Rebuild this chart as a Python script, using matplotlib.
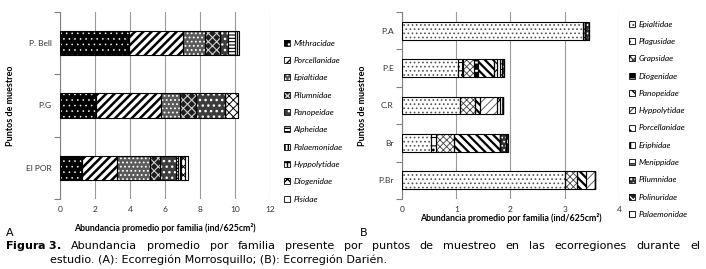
import matplotlib
matplotlib.use("Agg")
import matplotlib.pyplot as plt
from matplotlib.patches import Patch
from matplotlib.legend_handler import HandlerTuple
import numpy as np

# ---- data ----
sitios_a = ["El POR", "P.G", "P. Bell"]
familias_a = ["Mithracidae", "Porcellanidae", "Epialtidae", "Pilumnidae", "Panopeidae",
              "Alpheidae", "Palaemonidae", "Hyppolytidae", "Diogenidae", "Pisidae"]
# one list per family, columns = sites (El POR, P.G, P. Bell)
mithracidae_a = [1.25, 2.05, 3.95]
porcellanidae_a = [2.0, 3.7, 3.05]
epialtidae_a = [1.9, 1.1, 1.3]
pilumnidae_a = [0.55, 0.9, 0.85]
panopeidae_a = [0.95, 1.7, 0.45]
alpheidae_a = [0.08, 0.0, 0.4]
palaemonidae_a = [0.1, 0.0, 0.12]
hyppolytidae_a = [0.07, 0.0, 0.0]
diogenidae_a = [0.25, 0.7, 0.0]
pisidae_a = [0.15, 0.0, 0.08]
valores_a = [mithracidae_a, porcellanidae_a, epialtidae_a, pilumnidae_a, panopeidae_a,
             alpheidae_a, palaemonidae_a, hyppolytidae_a, diogenidae_a, pisidae_a]

sitios_b = ["P.Br", "Br", "C.R", "P.E", "P.A"]
familias_b = ["Epialtidae", "Plagusidae", "Grapsidae", "Diogenidae", "Panopeidae",
              "Hyppolytidae", "Porcellanidae", "Eriphidae", "Menippidae", "Pilumnidae",
              "Polinuridae", "Palaemonidae"]
# columns = sites (P.Br, Br, C.R, P.E, P.A)
epialtidae_b = [3.0, 0.53, 1.07, 1.04, 3.33]
plagusidae_b = [0.0, 0.09, 0.0, 0.09, 0.05]
grapsidae_b = [0.23, 0.34, 0.28, 0.2, 0.0]
diogenidae_b = [0.0, 0.0, 0.0, 0.08, 0.0]
panopeidae_b = [0.17, 0.85, 0.09, 0.29, 0.0]
hyppolytidae_b = [0.15, 0.0, 0.31, 0.0, 0.0]
porcellanidae_b = [0.0, 0.0, 0.05, 0.06, 0.0]
eriphidae_b = [0.0, 0.0, 0.06, 0.05, 0.0]
menippidae_b = [0.0, 0.0, 0.0, 0.03, 0.0]
pilumnidae_b = [0.0, 0.1, 0.0, 0.04, 0.07]
polinuridae_b = [0.0, 0.05, 0.0, 0.0, 0.0]
palaemonidae_b = [0.0, 0.0, 0.0, 0.0, 0.0]
valores_b = [epialtidae_b, plagusidae_b, grapsidae_b, diogenidae_b, panopeidae_b,
             hyppolytidae_b, porcellanidae_b, eriphidae_b, menippidae_b, pilumnidae_b,
             polinuridae_b, palaemonidae_b]

caption_1 = ("Abundancia promedio por familia presente por puntos de muestreo "
             "en las ecorregiones durante el")
caption_2 = "estudio. (A): Ecorregión Morrosquillo; (B): Ecorregión Darién."

# (face, hatch colour, hatch, hatch linewidth)
estilos_a = [("black", "white", "...", 0.4),
             ("white", "black", "////", 1.8),
             ("#5a5a5a", "white", "....", 0.8),
             ("#1e1e1e", "#cfcfcf", "xxxx", 0.8),
             ("#3c3c3c", "white", "...", 1.0),
             ("white", "black", "-----", 0.8),
             ("white", "black", "|||||", 0.8),
             ("white", "black", "++", 0.8),
             ("white", "black", "xxxx", 0.7),
             ("white", "white", "", 0.5)]
estilos_b = [("white", "#555555", "....", 0.7),
             ("white", "black", "++..", 0.8),
             ("white", "#404040", "xxxxx", 0.6),
             ("black", "white", "++", 1.5),
             ("white", "black", "\\\\\\\\", 1.6),
             ("white", "#606060", "////", 0.7),
             ("white", "black", "xx", 0.8),
             ("white", "black", "|||", 0.8),
             ("white", "black", "---", 0.8),
             ("#333333", "white", "....", 0.8),
             ("#222222", "white", "xx", 0.8),
             ("white", "black", "||", 0.8)]

plt.rcParams["font.family"] = ["Lato", "DejaVu Sans"]
plt.rcParams["mathtext.fontset"] = "dejavusans"

fig = plt.figure(figsize=(7.06, 2.69), dpi=100)
W, H = 706, 269


def px_axes(x0, y0, x1, y1):
    return fig.add_axes([x0 / W, 1 - y1 / H, (x1 - x0) / W, (y1 - y0) / H])


def dibujar(ax, sitios, valores, familias, estilos, alto, xmax, xticks):
    y = np.arange(len(sitios))
    izq = np.zeros(len(sitios))
    handles = []
    for fam, vals, (fc, hc, hatch, hlw) in zip(familias, valores, estilos):
        vals = np.array(vals)
        with plt.rc_context({"hatch.linewidth": hlw}):
            ax.barh(y, vals, left=izq, height=alto, color=fc, edgecolor=hc,
                    hatch=hatch, linewidth=0, zorder=2)
            h1 = Patch(facecolor=fc, edgecolor=hc, hatch=hatch, linewidth=0)
        ax.barh(y, vals, left=izq, height=alto, fill=False, edgecolor="black",
                linewidth=0.8, zorder=3)
        h2 = Patch(fill=False, edgecolor="black", linewidth=0.6)
        handles.append((h1, h2))
        izq = izq + vals
    ax.set_xlim(0, xmax)
    ax.set_ylim(-0.5, len(sitios) - 0.5)
    ax.set_xticks(xticks)
    ax.xaxis.grid(True, color="#9a9a9a", linewidth=0.8)
    ax.set_axisbelow(True)
    ax.set_yticks(np.arange(len(sitios) + 1) - 0.5)
    ax.set_yticklabels([])
    ax.set_yticks(y, minor=True)
    ax.set_yticklabels(sitios, minor=True)
    ax.tick_params(axis="y", which="major", length=4, color="#808080", width=0.8)
    ax.tick_params(axis="y", which="minor", length=0, pad=6, labelsize=6, labelcolor="#333333")
    ax.tick_params(axis="x", length=0, pad=5, labelsize=6, labelcolor="#333333")
    for s in ["top", "right", "bottom"]:
        ax.spines[s].set_visible(False)
    ax.spines["left"].set_color("#808080")
    ax.spines["left"].set_linewidth(0.8)
    return handles


leg_kw = dict(handler_map={tuple: HandlerTuple(ndivide=1, pad=0)}, loc="upper left",
              frameon=False, prop={"style": "italic", "size": 6}, handlelength=0.75,
              handleheight=0.75, handletextpad=0.4, labelspacing=1.24, borderpad=0,
              borderaxespad=0)

# ---- panel A ----
ax_a = px_axes(60, 12, 270, 199)
h_a = dibujar(ax_a, sitios_a, valores_a, familias_a, estilos_a, 0.39, 12, range(0, 13, 2))
ax_a.set_xlabel("Abundancia promedio por familia (ind/625cm²)", fontsize=6.3,
                fontweight="bold", labelpad=7)
ax_a.set_ylabel("Puntos de muestreo", fontsize=6.5, fontweight="bold", labelpad=8)
fig.legend(h_a, familias_a, bbox_to_anchor=(284 / W, 1 - 39.5 / H), **leg_kw)

# ---- panel B ----
ax_b = px_axes(402, 12, 619, 199)
h_b = dibujar(ax_b, sitios_b, valores_b, familias_b, estilos_b, 0.48, 4, range(0, 5))
ax_b.set_xlabel("Abundancia promedio por familia (ind/625cm²)", fontsize=6.3,
                fontweight="bold", labelpad=0)
ax_b.set_ylabel("Puntos de muestreo", fontsize=6.5, fontweight="bold", labelpad=8)
fig.legend(h_b, familias_b, bbox_to_anchor=(629 / W, 1 - 20.5 / H), **leg_kw)

# ---- panel letters and caption ----
fig.text(6 / W, 1 - 233 / H, "A", fontsize=8, va="center", family="DejaVu Sans")
fig.text(360 / W, 1 - 233 / H, "B", fontsize=8, va="center", family="DejaVu Sans")

# first caption line is justified between x=5 and x=700 px
palabras = [r"$\mathbf{Figura\ 3.}$"] + caption_1.split()
renderer = fig.canvas.get_renderer()
textos = [fig.text(0, 1 - 246 / H, p, fontsize=8, va="center", family="DejaVu Sans")
          for p in palabras]
anchos = [t.get_window_extent(renderer).width for t in textos]
hueco = (695 - sum(anchos)) / (len(textos) - 1)
x = 5.0
for t, w in zip(textos, anchos):
    t.set_x(x / W)
    x += w + hueco
fig.text(50 / W, 1 - 260 / H, caption_2, fontsize=8, va="center", family="DejaVu Sans")

fig.savefig("out.png", dpi=100)
